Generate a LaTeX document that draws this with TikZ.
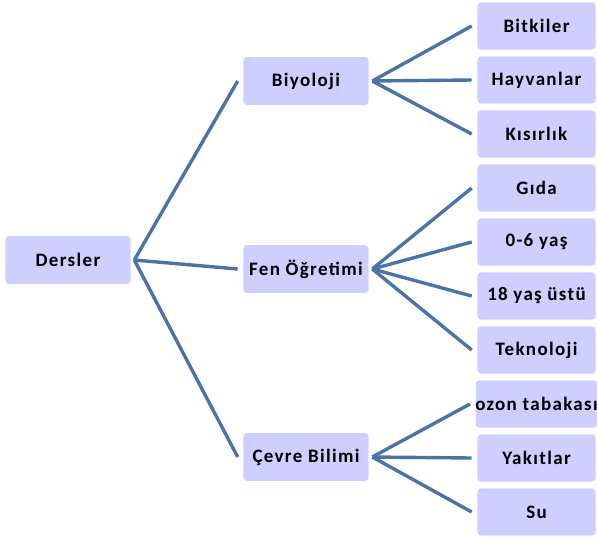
\documentclass[tikz,border=0pt]{standalone}
\usepackage{fontspec}
\setmainfont{Carlito}
\newfontfamily\boxfont[LetterSpace=7]{Carlito}
\definecolor{boxfill}{HTML}{CECEFF}
\definecolor{linecol}{HTML}{4A74A8}
\begin{document}
\begin{tikzpicture}[x=1pt,y=-1pt,
  box/.style={fill=boxfill, draw=white, line width=0.6pt, rounded corners=4pt, minimum width=126pt, minimum height=49pt, inner sep=0pt, font=\boxfont\fontsize{19}{22}\selectfont\bfseries},
  leaf/.style={box, minimum width=119pt, minimum height=48pt},
  conn/.style={draw=linecol, line width=3.4pt}]
\useasboundingbox (0,0) rectangle (597,539);
\clip (0,0) rectangle (597,539);
\node[box] (d) at (68,260) {Dersler};
\node[box] (b) at (306,81) {Biyoloji};
\node[box] (f) at (306,269) {Fen Öğretimi};
\node[box] (c) at (306,457) {Çevre Bilimi};
\node[leaf] (l1) at (536.5,26) {Bitkiler};
\node[leaf] (l2) at (536.5,80) {Hayvanlar};
\node[leaf] (l3) at (536.5,134) {Kısırlık};
\node[leaf] (l4) at (536.5,188) {Gıda};
\node[leaf] (l5) at (536.5,242) {0-6 yaş};
\node[leaf] (l6) at (536.5,296) {18 yaş üstü};
\node[leaf] (l7) at (536.5,350) {Teknoloji};
\node[leaf] (l8) at (536.5,404) {ozon tabakası};
\node[leaf] (l9) at (536.5,458) {Yakıtlar};
\node[leaf] (l10) at (536.5,512) {Su};
\foreach \p/\kids in {d/{b,f,c}, b/{l1,l2,l3}, f/{l4,l5,l6,l7}, c/{l8,l9,l10}}{
  \foreach \k in \kids {
    \draw[conn] ([xshift=3pt]\p.east) -- ([xshift=-5pt]\k.west);
  }
}
\end{tikzpicture}
\end{document}
